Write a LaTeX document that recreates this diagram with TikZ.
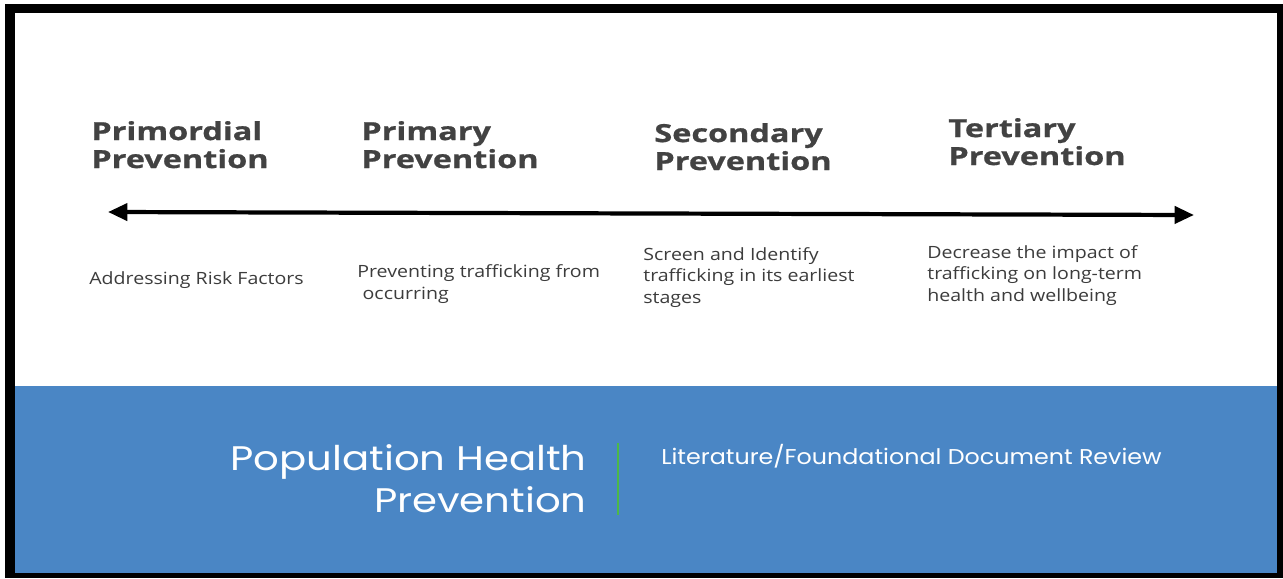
\documentclass[tikz,border=0pt]{standalone}
\usepackage{fontspec}
\setmainfont{Open Sans}
\newfontfamily\stagefont{Open Sans}[FakeStretch=1.3, FakeBold=0.8]
\newfontfamily\descfont{Open Sans}[FakeStretch=1.16]
\newfontfamily\bandfont{Poppins}[FakeStretch=1.18]
\newfontfamily\reviewfont{Poppins}[FakeStretch=1.11]
\usetikzlibrary{arrows.meta, positioning}
\definecolor{band}{HTML}{4A86C5}
\definecolor{heading}{HTML}{424242}
\definecolor{bodytext}{HTML}{3C3C3C}
\definecolor{divider}{HTML}{4DB848}

\begin{document}
\begin{tikzpicture}[x=0.02cm, y=-0.02cm,
    stage/.style={anchor=base west, inner sep=0, align=left, text=heading,
      font=\stagefont\fontsize{14.2}{15.9}\selectfont\bfseries},
    desc/.style={anchor=base west, inner sep=0, align=left, text=bodytext,
      font=\descfont\fontsize{9.6}{12.2}\selectfont},
    >={Triangle[length=11pt, width=9.6pt]}]
\useasboundingbox (0,0) rectangle (1283,578);
% frame, white panel and blue band
\fill[black] (5,4) rectangle (1283,578);
\fill[white] (15,13) rectangle (1277,386);
\fill[band]  (15,386) rectangle (1277,573);

% stages along the line (base = last line)
\node[stage] (primord) at (91,168)  {Primordial\\Prevention};
\node[stage] (primary) at (361,168) {Primary\\Prevention};
\node[stage] (second)  at (654,170) {Secondary\\Prevention};
\node[stage] (tert)    at (948,165) {Tertiary\\Prevention};

\coordinate (lend) at (108,212);
\coordinate (rend) at (1194,215);
\draw[<->, line width=2.4pt] (lend) -- (rend);

\node[desc] (d1) at (89,284)  {Addressing Risk Factors};
\node[desc] (d2) at (357,299) {Preventing trafficking from\\\hspace{3pt}occurring};
\node[desc] (d3) at (643,303) {Screen and Identify\\trafficking in its earliest\\stages};
\node[desc] (d4) at (927,301) {Decrease the impact of\\trafficking on long-term\\health and wellbeing};

% band text
\node[anchor=base east, inner sep=0, align=right, text=white,
  font=\bandfont\fontsize{19.4}{23.8}\selectfont] (pop) at (587,512)
  {Population Health\\Prevention};
\coordinate (dtop) at (618,443);
\coordinate (dbot) at (618,515);
\draw[divider, line width=1.4pt] (dtop) -- (dbot);
\node[anchor=base west, inner sep=0, text=white,
  font=\reviewfont\fontsize{12.2}{14}\selectfont] (lit) at (661,464)
  {Literature/Foundational Document Review};
\end{tikzpicture}
\end{document}
